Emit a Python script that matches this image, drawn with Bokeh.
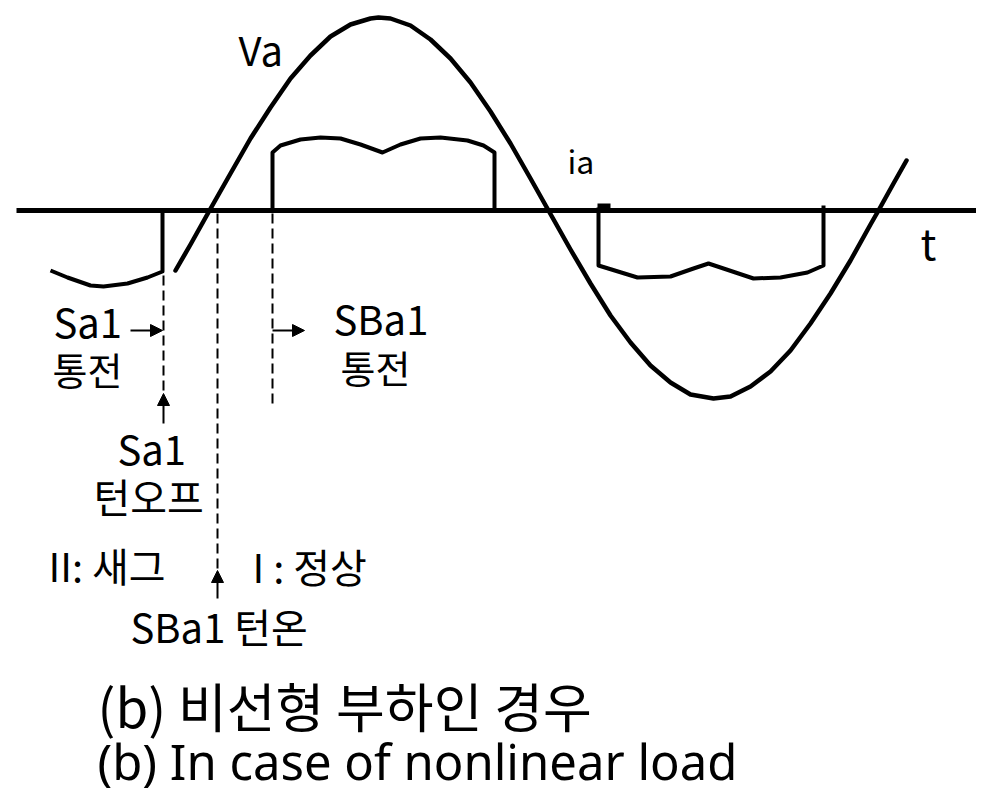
from bokeh.plotting import figure
from bokeh.models import Range1d, ColumnDataSource, Arrow, NormalHead
from bokeh.core.properties import value
from bokeh.embed import file_html
from bokeh.resources import INLINE

# ---- data (pixel-like diagram units, y grows downward) ----
axis_x = [16, 984]
axis_y = [210, 210]

# supply voltage Va
va_x = [175, 190, 209, 230, 250, 270, 290, 310, 330, 350, 370, 378, 390, 410, 430, 450,
        470, 490, 510, 530, 548, 570, 590, 610, 630, 650, 670, 690, 713, 730, 750, 770,
        790, 810, 830, 850, 870, 878, 893, 906]
va_y = [270, 244, 210, 173, 138, 107, 78, 55, 36, 24, 18, 17, 18, 25, 39, 58,
        82, 111, 143, 178, 210, 249, 283, 315, 342, 365, 382, 394, 398, 396, 386, 371,
        350, 323, 293, 260, 224, 210, 183, 160]

# load current ia (three pieces)
ia1_x = [50, 67, 90, 103, 127, 147, 162, 162]
ia1_y = [270, 277, 285, 286, 283, 277, 271, 210]
ia2_x = [272, 272, 280, 300, 320, 340, 360, 382, 400, 420, 440, 467, 483, 494, 494]
ia2_y = [210, 152, 145, 139, 137, 138, 144, 152, 144, 138, 137, 140, 145, 152, 210]
ia3_x = [598, 598, 637, 670, 693, 708, 723, 753, 780, 807, 823, 823]
ia3_y = [207, 265, 277, 276, 268, 263, 268, 278, 277, 272, 265, 205]
mark_x = [597, 610]
mark_y = [207, 207]

# dashed guide lines
dash_x = [163, 217, 272]
dash_y0 = [275, 213, 213]
dash_y1 = [393, 572, 405]

# arrows
arr_x0 = [163, 217, 130, 272]
arr_y0 = [423, 598, 330, 330]
arr_x1 = [163, 217, 162, 304]
arr_y1 = [393, 570, 330, 330]

# labels (anchor y of each text line)
lab_text = ["Va", "ia", "t", "Sa1", "통전", "SBa1", "통전", "Sa1", "턴오프",
            "II: 새그", "I : 정상", "SBa1 턴온", "(b) 비선형 부하인 경우"]
lab_x = [238, 567, 920, 53, 52, 333, 340, 117, 93, 48, 252, 130, 97]
lab_y = [48, 159, 241, 320, 368, 317, 366, 447, 495, 564, 565, 625, 704]
lab_size = ["40px", "32px", "42px", "40px", "38px", "40px", "38px", "40px", "40px",
            "40px", "40px", "40px", "53px"]

cap_text = ["(b) In case of nonlinear load"]
cap_x = [97]
cap_y = [760]

# ---- figure ----
p = figure(width=976, height=799, x_range=Range1d(0, 976), y_range=Range1d(799, 0),
           output_backend="svg", toolbar_location=None,
           x_axis_location=None, y_axis_location=None,
           min_border=0, outline_line_color=None, background_fill_color="white")
p.grid.visible = False

p.line(axis_x, axis_y, line_color="black", line_width=5)
p.line(va_x, va_y, line_color="black", line_width=4.5, line_join="round", line_cap="round")
for xs, ys in ((ia1_x, ia1_y), (ia2_x, ia2_y), (ia3_x, ia3_y)):
    p.line(xs, ys, line_color="black", line_width=4, line_join="round")
p.line(mark_x, mark_y, line_color="black", line_width=8)

p.segment(x0=dash_x, y0=dash_y0, x1=dash_x, y1=dash_y1, line_color="black",
          line_width=2, line_dash="10 5")

arr_src = ColumnDataSource(dict(x0=arr_x0, y0=arr_y0, x1=arr_x1, y1=arr_y1))
p.add_layout(Arrow(x_start="x0", y_start="y0", x_end="x1", y_end="y1", source=arr_src,
                   line_width=2, line_color="black",
                   end=NormalHead(size=12, fill_color="black", line_color="black")))

lab_src = ColumnDataSource(dict(x=lab_x, y=lab_y, text=lab_text, size=lab_size))
p.text(x="x", y="y", text="text", source=lab_src, text_font=value("Noto Sans CJK KR"),
       text_font_size="size", text_align="left", text_baseline="alphabetic",
       text_color="black")

p.text(x=cap_x, y=cap_y, text=cap_text, text_font=value("Noto Sans"),
       text_font_size="49px", text_align="left", text_baseline="alphabetic",
       text_color="black")

open("out.html", "w").write(file_html(p, INLINE))
